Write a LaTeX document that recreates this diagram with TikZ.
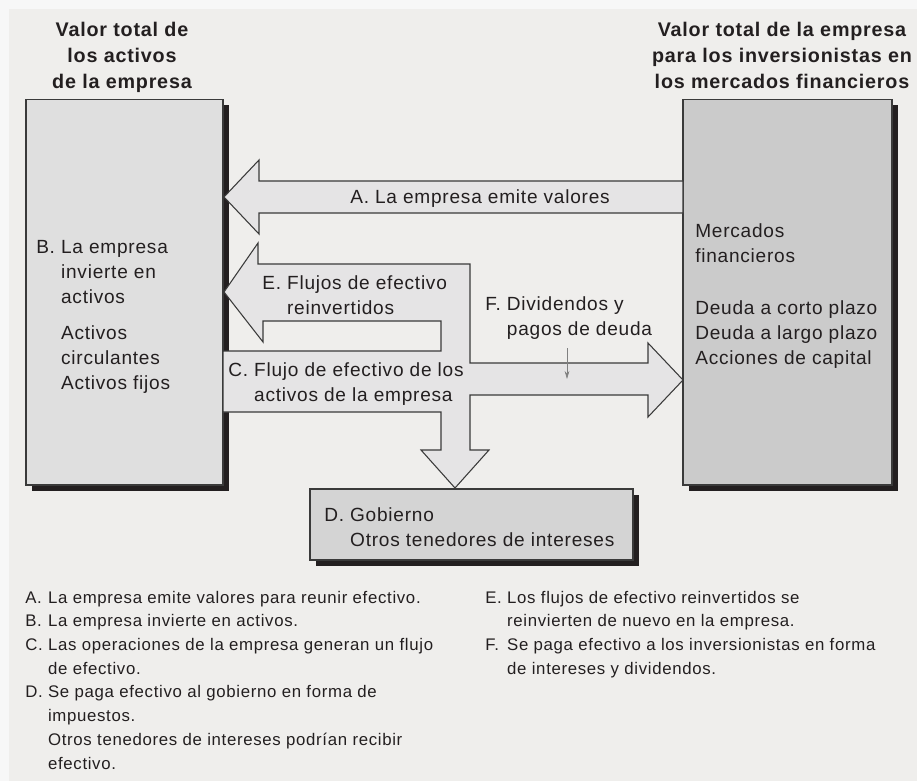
\documentclass[tikz,border=0pt]{standalone}
\usepackage{fontspec}
\setmainfont{Liberation Sans}[LetterSpace=4]
\usetikzlibrary{shadows,fit,arrows.meta}
\definecolor{ink}{HTML}{231F20}
\definecolor{edge}{HTML}{3A3A3A}
\definecolor{margin}{HTML}{F7F7F7}
\definecolor{panel}{HTML}{EFEEEC}
\definecolor{assetgray}{HTML}{DFDFDF}
\definecolor{flowgray}{HTML}{E5E4E5}
\definecolor{marketgray}{HTML}{CBCBCB}
\definecolor{govgray}{HTML}{D4D4D4}
\tikzset{
    bigbox/.style={draw=edge, line width=0.8pt, inner sep=0pt,
        drop shadow={shadow xshift=4.2pt, shadow yshift=-4.2pt, fill=ink, opacity=1}},
    flow/.style={draw=edge, line width=0.8pt, fill=flowgray, line join=miter},
    heading/.style={font=\fontsize{14.8}{19.5}\selectfont\bfseries, anchor=base},
    boxtext/.style={font=\fontsize{14.3}{18.75}\selectfont, anchor=base west},
    legend/.style={font=\fontsize{12.6}{17.8}\selectfont, anchor=base west},
}
\newcommand{\hanglabel}[2]{\begin{tabular}[t]{@{}l@{\ }l@{}}#1 & #2\end{tabular}}
\newcommand{\stack}[2]{\begin{tabular}[t]{@{}#1@{}}#2\end{tabular}}

\begin{document}
\begin{tikzpicture}[x=0.75pt, y=-0.75pt, every node/.style={inner sep=0pt, text=ink}]
%\draw[step=50,lightgray,very thin] (0,0) grid (917,781);
\useasboundingbox (0,0) rectangle (917,781);
\fill[margin] (0,0) rectangle (917,781);
\fill[panel] (9,9) rectangle (917,781);
\node[heading] (titleL) at (122,37) {\stack{c}{Valor total de\\los activos\\de la empresa}};
\node[heading] (titleR) at (782,37) {\stack{c}{Valor total de la empresa\\para los inversionistas en\\los mercados financieros}};
\node[bigbox, fill=assetgray, fit={(26,99.5) (223,485)}] (activos) {};
\node[bigbox, fill=marketgray, fit={(683,99.5) (892,485)}] (mercados) {};
\node[bigbox, fill=govgray, fit={(310,489) (633,560)}] (gobierno) {};
% A
\filldraw[flow] (683,181) -- (259,181) -- (259,160) -- (224,197) -- (259,234) -- (259,213) -- (683,213) -- cycle;
% C, D, E, F
\filldraw[flow] (223,351) -- (441,351) -- (441,321) -- (263,321) -- (263,342) -- (224,292) -- (258,243) -- (258,264)
    -- (470,264) -- (470,363) -- (648,363) -- (648,343) -- (683,380) -- (648,417) -- (648,395) -- (470,395)
    -- (470,450) -- (489,450) -- (455,488) -- (421,450) -- (441,450) -- (441,412) -- (223,412) -- cycle;
\coordinate (fstart) at (567,348);
\coordinate (fend) at (567,379);
\draw[gray, line width=0.5pt, -{Stealth[length=6pt, width=3.5pt]}] (fstart) -- (fend);
\node[boxtext] (inviert) at (36,253) {\hanglabel{B.}{La empresa\\ & invierte en\\ & activos\\[8.25pt] & Activos\\ & circulantes\\ & Activos fijos}};
\node[boxtext] (instrum) at (695,237) {\stack{l}{Mercados\\financieros\\[20.25pt]Deuda a corto plazo\\Deuda a largo plazo\\Acciones de capital}};
\node[boxtext] (emite) at (350,204) {A. La empresa emite valores};
\node[boxtext] (reinv) at (262,289) {\hanglabel{E.}{Flujos de efectivo\\ & reinvertidos}};
\node[boxtext] (divid) at (485,310) {\hanglabel{F.}{Dividendos y\\ & pagos de deuda}};
\node[boxtext] (flujoC) at (228,376) {\hanglabel{C.}{Flujo de efectivo de los\\ & activos de la empresa}};
\node[boxtext] (gobT) at (324,521) {\hanglabel{D.}{Gobierno\\ & Otros tenedores de intereses}};
\node[legend] (notasL) at (25,603) {\begin{tabular}[t]{@{}l@{\ }l@{}}
    A. & La empresa emite valores para reunir efectivo.\\
    B. & La empresa invierte en activos.\\
    C. & Las operaciones de la empresa generan un flujo\\
       & de efectivo.\\
    D. & Se paga efectivo al gobierno en forma de\\
       & impuestos.\\
       & Otros tenedores de intereses podrían recibir\\
       & efectivo.
    \end{tabular}};
\node[legend] (notasR) at (485,603) {\begin{tabular}[t]{@{}l@{\ }l@{}}
    E. & Los flujos de efectivo reinvertidos se\\
       & reinvierten de nuevo en la empresa.\\
    F. & Se paga efectivo a los inversionistas en forma\\
       & de intereses y dividendos.
    \end{tabular}};
\end{tikzpicture}
\end{document}
